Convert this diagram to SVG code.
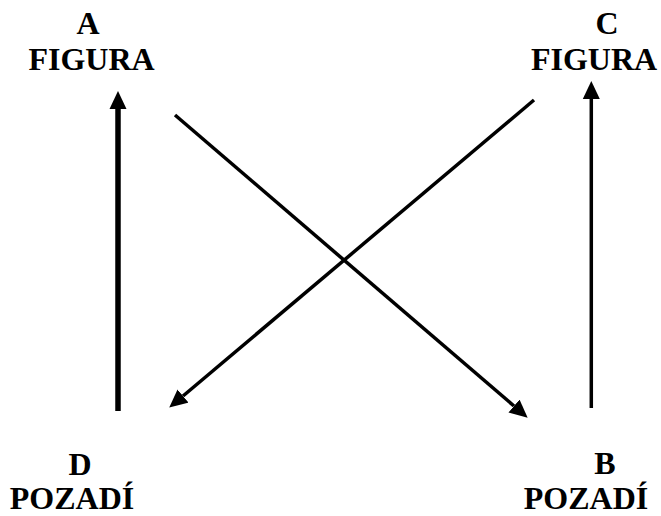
<svg xmlns="http://www.w3.org/2000/svg" width="661" height="516" viewBox="0 0 661 516">
<style>
text{font-family:'Liberation Serif','Times New Roman',serif;font-weight:700;font-size:32px;fill:#000;text-anchor:middle}
.c{stroke:#000;fill:none}
</style>
<defs>
<marker id="ah" markerUnits="userSpaceOnUse" markerWidth="18" markerHeight="18" refX="0" refY="8.5" orient="auto" viewBox="0 0 18 17">
<path d="M0,0 L18,8.5 L0,17 z" fill="#000"/>
</marker>
</defs>
<rect width="661" height="516" fill="#fff"/>
<g id="nodeA"><text x="88" y="34">A</text><text x="91.5" y="70">FIGURA</text></g>
<g id="nodeC"><text x="607" y="34">C</text><text x="594" y="70">FIGURA</text></g>
<g id="nodeD"><text x="80" y="475">D</text><text x="72" y="509">POZADÍ</text></g>
<g id="nodeB"><text x="605" y="474">B</text><text x="586" y="509">POZADÍ</text></g>
<g id="connectors">
<line class="c" x1="118" y1="411" x2="118" y2="109" stroke-width="5.5" marker-end="url(#ah)"/>
<line class="c" x1="591.3" y1="408" x2="591.3" y2="99" stroke-width="3.5" marker-end="url(#ah)"/>
<line class="c" x1="175" y1="115" x2="514" y2="406" stroke-width="3.5" marker-end="url(#ah)"/>
<line class="c" x1="534" y1="100" x2="183" y2="396" stroke-width="3.5" marker-end="url(#ah)"/>
</g>
</svg>
